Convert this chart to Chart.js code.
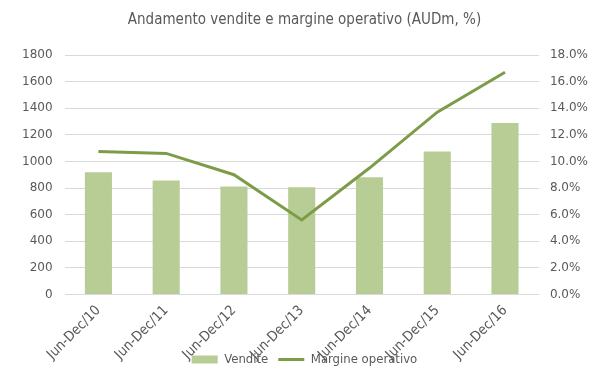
<!DOCTYPE html>
<html><head><meta charset="utf-8">
<script src="https://cdn.jsdelivr.net/npm/chart.js@4"></script>
<style>html,body{margin:0;padding:0;background:#fff;}#wrap{width:599px;height:378px;position:relative;}</style>
</head><body><div id="wrap"><canvas id="c" width="599" height="378"></canvas></div>
<script>
const categories = ["Jun-Dec/10","Jun-Dec/11","Jun-Dec/12","Jun-Dec/13","Jun-Dec/14","Jun-Dec/15","Jun-Dec/16"];
const vendite = [918, 857, 812, 805, 880, 1075, 1288];
const margine = [10.75, 10.6, 9.0, 5.6, 9.5, 13.7, 16.7];
const leftTicks = [0, 200, 400, 600, 800, 1000, 1200, 1400, 1600, 1800];
const rightTicks = [0, 2, 4, 6, 8, 10, 12, 14, 16, 18];
const titleText = "Andamento vendite e margine operativo (AUDm, %)";

const narrow = "'DejaVu Sans Condensed', 'Liberation Sans Narrow', sans-serif";
const wide = "'DejaVu Sans', Verdana, sans-serif";
const grey = "#595959";

const legendMover = {
  id: 'legendMover',
  afterLayout(chart) {
    const l = chart.legend;
    if (!l) return;
    const h = l.bottom - l.top;
    l.top = 343; l.bottom = 343 + h;
  }
};

new Chart(document.getElementById('c'), {
  data: {
    labels: categories,
    datasets: [
      { type: 'line', label: 'Margine operativo', data: margine, yAxisID: 'y2',
        borderColor: '#7d9c47', backgroundColor: '#7d9c47', borderWidth: 3,
        pointRadius: 0, tension: 0, pointStyle: 'line', order: 0 },
      { type: 'bar', label: 'Vendite', data: vendite, yAxisID: 'y',
        backgroundColor: '#b8cd96', borderWidth: 0, barPercentage: 0.4, categoryPercentage: 1,
        pointStyle: 'rect', order: 1 }
    ]
  },
  plugins: [legendMover],
  options: {
    responsive: false, animation: false,
    layout: { padding: { left: 10, right: 0, top: 0, bottom: -26 } },
    plugins: {
      title: { display: true, text: titleText, color: grey,
        font: { family: narrow, size: 15, weight: 'normal' }, padding: { top: 11, bottom: 26 } },
      legend: { position: 'bottom', reverse: true,
        labels: { usePointStyle: true, pointStyleWidth: 26, boxHeight: 8, color: grey,
          font: { family: narrow, size: 13 }, padding: 10 } },
      tooltip: { enabled: false }
    },
    scales: {
      x: { grid: { display: false, drawTicks: false },
        border: { display: false },
        afterFit: s => { s.paddingLeft = 0; s.paddingRight = 0; },
        ticks: { color: grey, font: { family: narrow, size: 14 }, minRotation: 45, maxRotation: 45, padding: 8 } },
      y: { position: 'left', min: 0, max: 1800,
        afterBuildTicks: s => { s.ticks = leftTicks.map(v => ({ value: v })); },
        ticks: { color: grey, font: { family: wide, size: 12 }, padding: 12, callback: v => String(v) },
        grid: { color: '#d9d9d9', drawTicks: false }, border: { display: false } },
      y2: { position: 'right', min: 0, max: 18,
        afterBuildTicks: s => { s.ticks = rightTicks.map(v => ({ value: v })); },
        ticks: { color: grey, font: { family: wide, size: 12 }, padding: 11,
          callback: v => Number(v).toFixed(1) + '%' },
        grid: { display: false, drawTicks: false }, border: { display: false } }
    }
  }
});
</script></body></html>
